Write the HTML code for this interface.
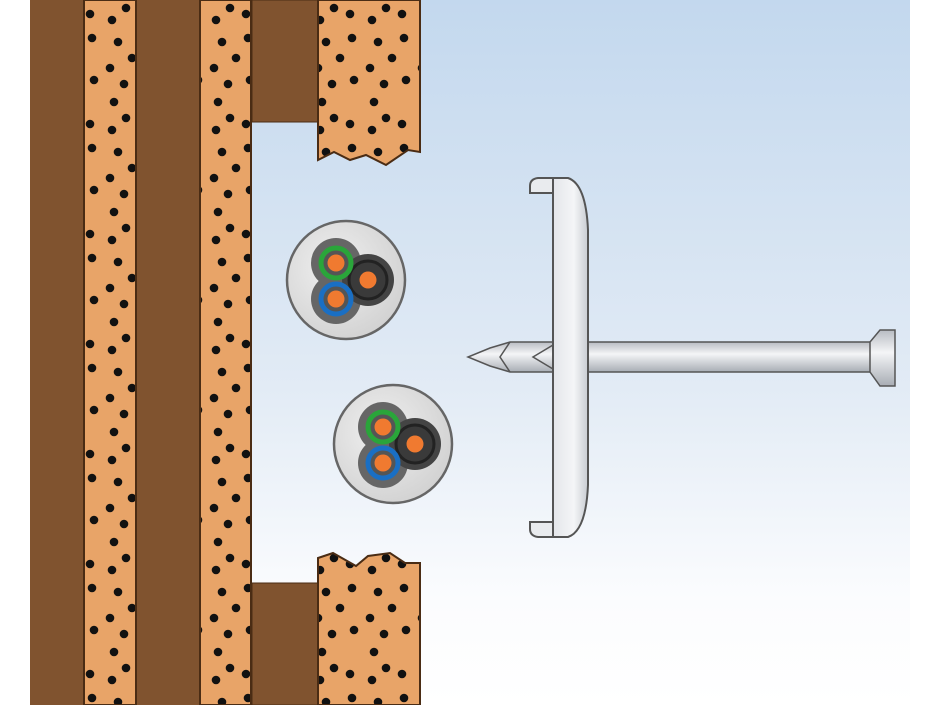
<!DOCTYPE html>
<html><head><style>html,body{margin:0;padding:0;background:#fff;width:940px;height:705px;overflow:hidden}</style></head>
<body>
<svg width="940" height="705" viewBox="0 0 940 705" xmlns="http://www.w3.org/2000/svg">
<defs>
<linearGradient id="bg" x1="0" y1="0" x2="0" y2="1">
<stop offset="0" stop-color="#c3d8ee"/><stop offset="0.55" stop-color="#e2ebf5"/><stop offset="0.85" stop-color="#fbfcfe"/><stop offset="1" stop-color="#ffffff"/></linearGradient>
<pattern id="dots" width="52" height="110" patternUnits="userSpaceOnUse">
<rect width="52" height="110" fill="#e8a468"/>
<g fill="#111">
<circle cx="22" cy="8" r="4.3"/><circle cx="38" cy="14" r="4.3"/><circle cx="8" cy="20" r="4.3"/>
<circle cx="14" cy="42" r="4.3"/><circle cx="40" cy="38" r="4.3"/><circle cx="28" cy="58" r="4.3"/>
<circle cx="6" cy="68" r="4.3"/><circle cx="20" cy="84" r="4.3"/><circle cx="42" cy="80" r="4.3"/>
<circle cx="10" cy="102" r="4.3"/>
</g></pattern>
<radialGradient id="cab" cx="0.4" cy="0.4" r="0.7"><stop offset="0" stop-color="#f0f0f0"/><stop offset="1" stop-color="#cfcfcf"/></radialGradient>
<linearGradient id="shaft" x1="0" y1="0" x2="0" y2="1"><stop offset="0" stop-color="#b8bcc2"/><stop offset="0.4" stop-color="#f4f5f7"/><stop offset="1" stop-color="#a8adb4"/></linearGradient>
<linearGradient id="cap" x1="0" y1="0" x2="1" y2="0"><stop offset="0" stop-color="#e4e6ea"/><stop offset="0.6" stop-color="#f4f5f7"/><stop offset="1" stop-color="#c8ccd2"/></linearGradient>
<g id="cable">
<circle r="59" fill="url(#cab)" stroke="#666" stroke-width="2.5"/>
<circle cx="-10" cy="-17" r="25" fill="#666"/><circle cx="-10" cy="19" r="25" fill="#666"/><circle cx="22" cy="0" r="26" fill="#444"/>
<circle cx="22" cy="0" r="19" fill="#3a3a3a" stroke="#222" stroke-width="3"/>
<circle cx="-10" cy="-17" r="15" fill="#555" stroke="#2aa53a" stroke-width="5"/>
<circle cx="-10" cy="19" r="15" fill="#555" stroke="#1a6fc4" stroke-width="5"/>
<circle cx="-10" cy="-17" r="8.5" fill="#f07a30"/><circle cx="-10" cy="19" r="8.5" fill="#f07a30"/><circle cx="22" cy="0" r="8.5" fill="#f07a30"/>
</g>
</defs>
<rect x="30" y="0" width="880" height="705" fill="url(#bg)"/>
<rect x="30" y="0" width="54" height="705" fill="#80532f"/>
<rect x="84" y="0" width="52" height="705" fill="url(#dots)" stroke="#4a2c14" stroke-width="2"/>
<rect x="137" y="0" width="63" height="705" fill="#80532f"/>
<rect x="200" y="0" width="51" height="705" fill="url(#dots)" stroke="#4a2c14" stroke-width="2"/>
<rect x="252" y="0" width="66" height="122" fill="#80532f" stroke="#4a2c14" stroke-width="1"/>
<rect x="252" y="583" width="66" height="122" fill="#80532f" stroke="#4a2c14" stroke-width="1"/>
<path d="M318 0 H420 V152 L408 150 L386 165 L366 155 L350 160 L334 152 L318 160 Z" fill="url(#dots)" stroke="#4a2c14" stroke-width="2"/>
<path d="M318 705 V558 L333 553 L356 566 L368 556 L390 553 L405 563 L420 563 V705 Z" fill="url(#dots)" stroke="#4a2c14" stroke-width="2"/>
<use href="#cable" x="346" y="280"/>
<use href="#cable" x="393" y="444"/>
<rect x="585" y="342" width="296" height="30" fill="url(#shaft)" stroke="#555" stroke-width="1.5"/>
<path d="M870 342 L880 330 L895 330 L895 386 L880 386 L870 372 Z" fill="url(#shaft)" stroke="#555" stroke-width="1.5"/>
<path d="M553 342 L510 342 L490 348 L468 357 L490 366 L510 372 L553 372 Z" fill="url(#shaft)" stroke="#555" stroke-width="1.5"/>
<path d="M553 345 L533 357 L553 369 M510 342 L500 357 L510 372" fill="none" stroke="#555" stroke-width="1.5"/>
<path d="M553 178 H568 Q586 184 588 230 V485 Q586 531 568 537 H553 Z" fill="url(#cap)" stroke="#555" stroke-width="2"/>
<path d="M553 178 H538 Q530 179 530 186 V193 H553 Z M553 537 H538 Q530 536 530 529 V522 H553 Z" fill="#e9ebee" stroke="#555" stroke-width="2"/>
<line x1="553" y1="178" x2="553" y2="537" stroke="#555" stroke-width="2"/>
</svg>
</body></html>
